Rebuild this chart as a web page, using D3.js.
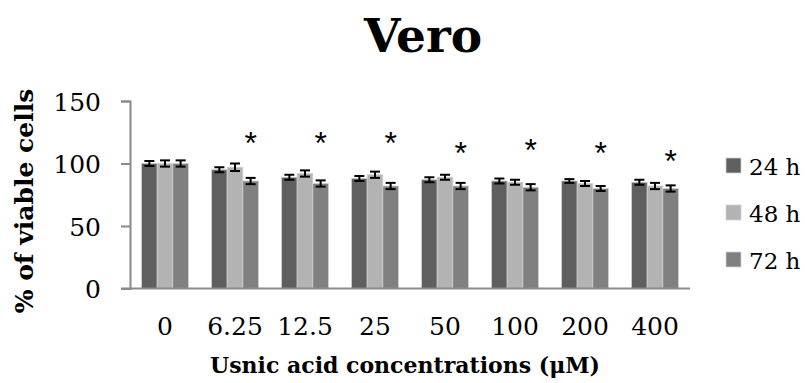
<!DOCTYPE html>
<html>
<head>
<meta charset="utf-8">
<script src="https://cdn.jsdelivr.net/npm/d3@7"></script>
<style>
  body { margin: 0; background: #fff; }
  text { font-family: "DejaVu Serif", serif; }
</style>
</head>
<body>
<svg id="chart" width="805" height="383"></svg>
<script>
// data
const concentrations = ["0", "6.25", "12.5", "25", "50", "100", "200", "400"];
const seriesNames = ["24 h", "48 h", "72 h"];
const v24 = [100, 95, 89, 88, 87, 86, 86, 85];
const v48 = [100, 97, 92, 91, 89, 85, 84, 82];
const v72 = [100, 86, 84, 82, 82, 81, 80, 80];
const e24 = [2, 2, 2, 2, 2, 2, 1.5, 2];
const e48 = [2.5, 3, 2.5, 2.5, 2, 2, 2, 2.5];
const e72 = [2.5, 2.5, 2.5, 2.5, 2.5, 2.5, 2, 2.5];
const starLevels = [null, 124, 124, 124, 116, 118, 116, 109];
const yTicks = [0, 50, 100, 150];

const colors = ["#5f5f5f", "#b3b3b3", "#808080"];
const values = [v24, v48, v72];
const errors = [e24, e48, e72];

const svg = d3.select("#chart");
const mLeft = 130, mRight = 690, mTop = 101, mBottom = 288.5;

const x = d3.scaleBand().domain(concentrations).range([mLeft, mRight]).paddingInner(0.33).paddingOuter(0.165);
const xs = d3.scaleBand().domain(seriesNames).range([0, x.bandwidth()]);
const y = d3.scaleLinear().domain([0, 150]).range([mBottom, mTop]);

// title
svg.append("text").attr("x", 423).attr("y", 52).attr("text-anchor", "middle")
  .style("font-size", "47px").style("font-weight", "bold").text("Vero");

// bars
const rows = [];
concentrations.forEach((c, i) => {
  seriesNames.forEach((s, j) => rows.push({ c, s, j, v: values[j][i], e: errors[j][i] }));
});

svg.append("g").selectAll("rect").data(rows).enter().append("rect")
  .attr("x", d => x(d.c) + xs(d.s))
  .attr("y", d => y(d.v))
  .attr("width", xs.bandwidth())
  .attr("height", d => y(0) - y(d.v))
  .attr("fill", d => colors[d.j])
  .attr("stroke", "#d0d0d0").attr("stroke-width", 0.8);

// error bars
const eb = svg.append("g").attr("stroke", "#000").attr("stroke-width", 2);
rows.forEach(d => {
  const cx = x(d.c) + xs(d.s) + xs.bandwidth() / 2;
  eb.append("line").attr("x1", cx).attr("x2", cx).attr("y1", y(d.v + d.e)).attr("y2", y(d.v - d.e));
  eb.append("line").attr("x1", cx - 5).attr("x2", cx + 5).attr("y1", y(d.v + d.e)).attr("y2", y(d.v + d.e));
  eb.append("line").attr("x1", cx - 5).attr("x2", cx + 5).attr("y1", y(d.v - d.e)).attr("y2", y(d.v - d.e));
});

// asterisks over the 72 h bars
svg.append("g").selectAll("text").data(concentrations.filter((c, i) => starLevels[i] !== null)).enter()
  .append("text")
  .attr("x", c => x(c) + xs("72 h") + xs.bandwidth() / 2)
  .attr("y", c => y(starLevels[concentrations.indexOf(c)]) + 20)
  .attr("text-anchor", "middle")
  .style("font-size", "32px").style("font-family", "Liberation Sans, sans-serif")
  .text("*");

// axes
const yAxis = svg.append("g").attr("transform", `translate(${mLeft},0)`)
  .call(d3.axisLeft(y).tickValues(yTicks).tickSize(9).tickPadding(20));
const xAxis = svg.append("g").attr("transform", `translate(0,${mBottom})`)
  .call(d3.axisBottom(x).tickSize(0).tickPadding(29));
xAxis.select(".domain").attr("d", `M${mLeft - 9},0H${mRight}`);
[yAxis, xAxis].forEach(a => {
  a.selectAll(".domain, line").attr("stroke", "#8a8a8a").attr("stroke-width", 2);
  a.selectAll("text").style("font-size", "25px").style("font-family", "DejaVu Serif, serif").attr("fill", "#000");
});
yAxis.selectAll("text").attr("dy", "0.36em");

// axis titles
svg.append("text").attr("transform", "translate(33,201) rotate(-90)").attr("text-anchor", "middle")
  .style("font-size", "25px").style("font-weight", "bold").text("% of viable cells");
svg.append("text").attr("x", 405).attr("y", 373).attr("text-anchor", "middle")
  .style("font-size", "22px").style("font-weight", "bold").text("Usnic acid concentrations (μM)");

// legend
const lg = svg.append("g").selectAll("g").data(seriesNames).enter().append("g")
  .attr("transform", (d, i) => `translate(726,${158 + i * 47})`);
lg.append("rect").attr("width", 15).attr("height", 15).attr("fill", (d, i) => colors[i])
  .attr("stroke", "#d0d0d0").attr("stroke-width", 0.8);
lg.append("text").attr("x", 23).attr("y", 16.5).style("font-size", "23px").text(d => d);
</script>
</body>
</html>
